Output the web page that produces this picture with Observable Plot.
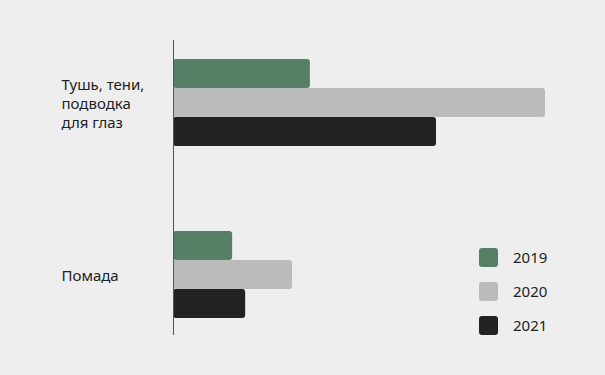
<!DOCTYPE html>
<html><head><meta charset="utf-8">
<script src="https://cdn.jsdelivr.net/npm/d3@7"></script>
<script src="https://cdn.jsdelivr.net/npm/@observablehq/plot@0.6"></script>
<style>
body{margin:0;background:#eeeeee;}
#chart{position:relative;width:605px;height:375px;background:#eeeeee;font-family:"Noto Sans",sans-serif;color:#222;overflow:hidden}
#chart svg{position:absolute;left:0;top:0;background:transparent}
.legend{position:absolute;left:479px;top:248px;}
.item{display:flex;align-items:center;height:19px;margin-bottom:15px;font-size:15px;line-height:19px}
.sw{width:19px;height:19px;border-radius:3px;margin-right:15px}
</style></head><body><div id="chart"></div>
<script>
const categories = ["Тушь, тени, подводка для глаз", "Помада"];
const categoryLabels = ["Тушь, тени,\nподводка\nдля глаз", "Помада"];
const years = ["2019", "2020", "2021"];
const colors = ["#577f65", "#bbbbbb", "#222222"];
const eyeValues = [36.8, 100, 70.7];
const lipValues = [15.9, 32.0, 19.4];

const seriesByCategory = [eyeValues, lipValues];
const rows = [];
categories.forEach((c, i) => years.forEach((y, j) => rows.push({category: c, year: y, value: seriesByCategory[i][j]})));

const chart = Plot.plot({
  width: 605,
  height: 375,
  marginLeft: 173,
  marginRight: 60,
  marginTop: 41,
  marginBottom: 39,
  style: {background: "transparent", fontFamily: "Noto Sans, sans-serif"},
  x: {domain: [0, 100], axis: null},
  y: {domain: years, axis: null, padding: 0},
  fy: {domain: categories, axis: null, paddingInner: 0.4826, paddingOuter: 0.0988},
  color: {domain: years, range: colors},
  marks: [
    Plot.barX(rows, {x: "value", y: "year", fy: "category", fill: "year", rx: 3}),
    Plot.text(categories, {fy: d => d, text: (d, i) => categoryLabels[i], frameAnchor: "left", dx: -112, textAnchor: "start", fontSize: 15, lineHeight: 1.25, fill: "#222"}),
    Plot.ruleX([0], {fy: [categories[0]], stroke: "#555", strokeWidth: 1, insetTop: -18, insetBottom: -42}),
    Plot.ruleX([0], {fy: [categories[1]], stroke: "#555", strokeWidth: 1, insetTop: -42, insetBottom: -16})
  ]
});
const root = document.getElementById("chart");
root.appendChild(chart);

const legend = document.createElement("div");
legend.className = "legend";
years.forEach((y, i) => {
  const it = document.createElement("div");
  it.className = "item";
  const sw = document.createElement("div");
  sw.className = "sw";
  sw.style.background = colors[i];
  const t = document.createElement("span");
  t.textContent = y;
  it.appendChild(sw); it.appendChild(t);
  legend.appendChild(it);
});
root.appendChild(legend);
</script></body></html>
